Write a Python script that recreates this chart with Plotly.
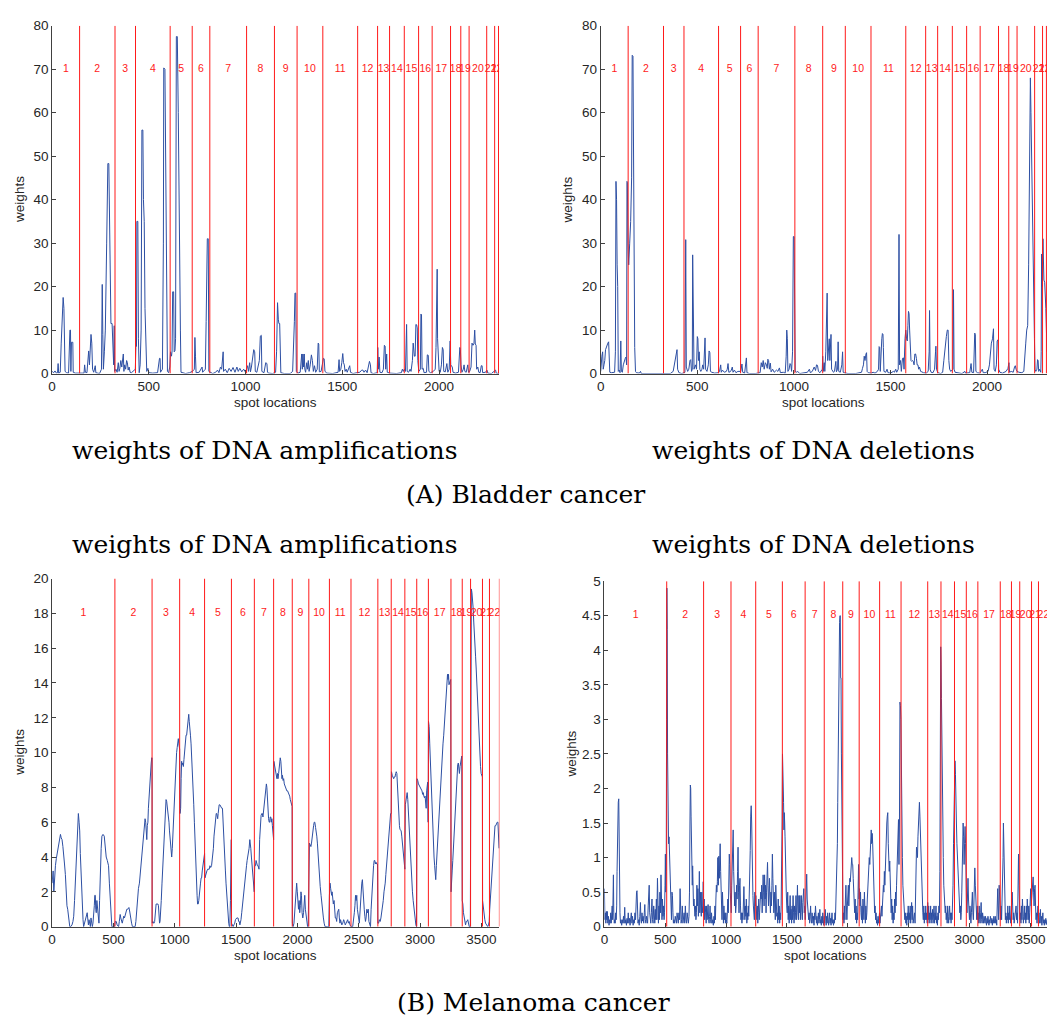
import plotly.graph_objects as go

W, H = 1047, 1026

# ---------------- data ----------------
chrom_labels = [str(i) for i in range(1, 23)]

# chromosome end positions (spot index) for each data set
bladder_bounds = [142, 325, 431, 610, 724, 815, 1005, 1149, 1266, 1399, 1579,
                  1682, 1744, 1820, 1894, 1964, 2059, 2112, 2155, 2246, 2287, 2307]
melanoma_bounds = [512, 815, 1040, 1243, 1462, 1649, 1806, 1958, 2093, 2261, 2437,
                   2656, 2765, 2876, 2973, 3068, 3252, 3344, 3412, 3509, 3566, 3647]

# (spot location, weight) pairs
bladder_amp = [(0,0.5),(8,0.2),(15,0.6),(22,0.1),(28,0.2),(31,2.3),(34,0.1),(42,0.3),(47,7),(52,14),(57,17.5),(61,15),(64,8),(67,0.5),(75,0.2),(85,0.1),(92,10),(95,10),(97,0.5),(100,7.2),(107,7.2),(109,0.3),(120,0.1),(150,0),(165,0.1),(168,2),(172,0.3),(180,0.2),(189,5.2),(193,2),(197,7),(201,9),(205,7),(209,1),(215,0.3),(223,1.8),(226,0.2),(245,0),(255,1),(259,20.5),(262,9),(265,1),(270,5),(275,10),(282,30),(288,48.3),(293,48.3),(297,30),(300,18),(304,11.5),(310,11.5),(314,8),(318,2),(321,11),(323,0.5),(330,1),(336,0.3),(342,2.5),(346,0.5),(350,1.2),(355,3),(360,1.5),(365,4.5),(368,4.5),(371,0.5),(375,2),(380,1),(385,3),(389,2.5),(393,0.8),(398,1.5),(403,0.3),(410,0.2),(420,0.5),(430,1),(433,6),(436,6.2),(438,35),(443,35),(446,8),(450,0.2),(455,2),(460,10),(464,56),(469,56),(472,40),(476,35),(480,15),(484,5),(486,5),(489,0.5),(495,1.2),(500,0.2),(520,0.1),(545,0.2),(555,3.5),(558,3.5),(560,0.3),(570,1),(575,30),(577,70.3),(583,70),(587,40),(592,10),(596,0.5),(602,0.2),(608,1.5),(612,5),(617,4),(620,5.2),(623,18.8),(628,18.8),(631,5),(635,5.3),(638,8),(642,77.5),(647,77.5),(652,60),(657,30),(660,12),(663,10),(666,0.3),(690,0),(710,0.2),(725,0.5),(735,1),(738,8.3),(741,4),(744,0.2),(760,0.3),(771,1.5),(775,1.5),(778,0.3),(785,0.8),(792,1),(796,12),(800,20),(802,31),(807,31),(810,0.5),(830,0),(845,0.3),(855,0.8),(862,0.2),(870,1.5),(876,1),(884,5),(886,0.5),(895,1),(905,0.2),(915,1.2),(925,0.5),(935,1.4),(945,0.3),(955,1.5),(962,0.5),(970,1.2),(980,0.4),(990,1),(1000,0.3),(1010,1.8),(1015,0.5),(1021,2.5),(1025,0.4),(1030,1.5),(1036,4),(1042,5.5),(1047,5),(1050,0.5),(1058,0.3),(1066,2),(1071,3),(1076,8.6),(1081,8.8),(1084,0.5),(1095,0.2),(1104,2.5),(1110,2.3),(1113,0.3),(1120,0.1),(1140,0),(1155,0.3),(1160,5),(1165,16.3),(1169,12.5),(1172,11.5),(1176,11.5),(1179,3),(1182,0.2),(1200,0),(1230,0),(1243,0.5),(1248,5),(1252,12),(1255,18.5),(1259,18.5),(1262,0.5),(1270,0.1),(1282,0.3),(1286,3),(1290,4.5),(1293,1),(1296,4.5),(1300,1.5),(1303,4.5),(1306,1),(1310,0.3),(1316,2.5),(1320,1),(1324,3),(1328,0.5),(1334,2),(1340,4.3),(1345,3),(1350,0.5),(1356,1.8),(1362,0.3),(1370,1),(1375,7),(1378,6.8),(1381,0.4),(1390,0.5),(1396,2),(1402,3.5),(1406,3.4),(1410,0.5),(1420,0.1),(1450,0),(1478,0.3),(1483,3.2),(1486,0.5),(1492,1),(1497,2.5),(1502,4.6),(1506,2.5),(1510,2),(1514,0.5),(1520,1),(1525,0.3),(1532,1),(1538,1.8),(1542,0.3),(1555,0),(1575,0.2),(1590,0.3),(1600,0.8),(1606,0.8),(1612,0.3),(1620,0.8),(1628,0.2),(1636,2.5),(1640,2.8),(1645,2),(1648,0.2),(1660,0),(1680,0.2),(1683,6),(1686,1),(1690,3.8),(1694,0.3),(1705,0.2),(1712,1),(1717,6.5),(1721,6.3),(1724,1),(1729,4.5),(1732,0.3),(1745,0.1),(1780,0),(1805,0.2),(1810,1),(1815,0.5),(1820,1),(1826,0.5),(1832,11.3),(1835,0.5),(1842,0.3),(1850,1),(1855,0.5),(1862,3),(1866,7),(1869,4),(1872,4),(1876,4),(1880,11.3),(1884,11.2),(1887,10.5),(1890,3),(1895,0.5),(1903,1),(1906,13.7),(1909,13.5),(1912,1),(1918,1.2),(1922,0.2),(1935,0.3),(1939,4.3),(1944,4.2),(1947,0.5),(1955,0.2),(1970,0.5),(1980,1),(1984,6),(1987,24),(1990,24),(1992,8),(1996,3),(2000,0.5),(2006,0.3),(2012,2),(2017,6),(2021,5.5),(2024,0.5),(2032,0.4),(2040,2.3),(2045,0.3),(2052,1),(2057,7.5),(2060,2),(2064,1.5),(2068,1.5),(2072,0.3),(2085,0.1),(2100,0.3),(2104,3.5),(2107,6),(2110,5.5),(2113,2),(2118,0.3),(2125,1),(2129,2),(2133,0.5),(2140,0.3),(2148,2),(2152,0.3),(2158,0.5),(2165,1.5),(2170,7),(2175,6.5),(2180,6.8),(2184,10),(2187,6.8),(2191,6.5),(2194,1),(2200,1.5),(2205,0.3),(2212,0.2),(2218,1.8),(2222,1.8),(2225,0.2),(2240,0.3),(2247,0.8),(2252,0.1),(2270,0),(2292,0.8),(2295,0.1),(2310,0)]

bladder_del = [(0,0.5),(3,3),(6,4),(10,5),(13,1),(17,2),(21,3),(25,5.5),(29,6.2),(33,6.5),(37,7),(41,7.3),(44,3.5),(47,0.3),(55,0.2),(68,0.2),(72,0.3),(76,5),(79,44.2),(82,40),(85,25),(88,20),(91,0.5),(96,0.8),(100,0.2),(104,7.5),(107,0.5),(112,0.3),(117,2),(122,3),(127,3.5),(131,3.8),(134,2),(136,44.2),(138,44),(141,30),(145,25),(150,30),(155,35),(160,45),(163,73.2),(167,73),(170,40),(173,20),(176,6),(180,0.5),(185,0.2),(200,0.1),(206,0.5),(210,0),(300,0),(360,0),(375,0.5),(380,2),(385,3.5),(390,5),(395,5.5),(398,1),(405,0.2),(420,0),(436,0.3),(440,30.8),(443,1.5),(450,0.5),(456,1),(462,3),(466,3.2),(470,0.5),(474,1),(476,27.3),(479,5),(483,1),(490,2),(496,1),(500,8.5),(503,8),(506,3),(510,5),(513,1),(518,0.5),(524,1),(528,2),(533,1),(540,8.2),(543,1),(550,0.5),(557,2),(561,5.2),(565,4.8),(568,0.5),(575,0.3),(590,0.1),(610,0.2),(615,0.5),(621,2),(624,0.3),(630,0.8),(640,0.3),(650,0.5),(655,1),(659,2.3),(663,0.3),(670,0.4),(676,0.8),(681,1.5),(685,0.3),(692,0.8),(700,0.2),(710,0.5),(725,0.5),(731,2.2),(735,0.3),(745,0.1),(750,2),(754,3.6),(757,0.2),(770,0),(800,0),(825,0.2),(831,2.5),(836,1.5),(841,3),(846,1),(852,2.5),(858,2),(862,1.2),(865,3.3),(869,3),(873,1),(878,2.4),(882,0.4),(890,1),(898,0.3),(910,0.8),(917,0.5),(925,1.3),(930,0.2),(945,0.3),(955,0.1),(960,4),(963,10),(966,8),(969,0.5),(975,1),(980,2.3),(984,2),(988,0.5),(993,5),(997,31.5),(1001,31.5),(1004,10),(1007,0.5),(1015,0.3),(1020,0.5),(1030,0),(1060,0.2),(1070,0.3),(1080,1),(1085,0.2),(1095,0.5),(1105,1.5),(1112,0.7),(1117,2),(1122,1.9),(1127,0.5),(1135,0.2),(1147,1),(1149,4),(1152,0.5),(1157,2.5),(1160,0.5),(1165,5),(1169,18.5),(1172,18.5),(1175,3),(1179,5),(1183,8),(1186,3),(1189,6),(1192,9),(1195,1),(1200,0.5),(1205,0.3),(1210,0.5),(1217,2.8),(1220,0.4),(1226,1),(1229,7.3),(1232,0.5),(1240,0.3),(1248,2),(1252,5),(1255,0.3),(1262,0.2),(1280,0),(1320,0),(1340,0.2),(1350,0.3),(1355,1.2),(1360,2),(1364,4),(1368,3),(1373,4.5),(1376,4.8),(1379,0.5),(1385,0.2),(1400,0.1),(1410,0.3),(1420,0.1),(1432,0.5),(1438,1),(1441,6.2),(1444,6),(1447,0.5),(1450,5),(1455,8),(1458,9.2),(1461,9),(1463,6),(1466,0.5),(1475,0.3),(1482,1),(1487,0.2),(1500,0.1),(1515,0.5),(1520,0.3),(1527,1),(1532,0.3),(1540,1),(1544,32),(1547,2),(1552,3),(1556,0.5),(1562,3.5),(1567,3.6),(1570,1),(1575,8),(1579,10),(1583,8),(1587,7.5),(1590,11),(1593,14.3),(1596,13.8),(1599,10),(1602,4),(1606,3),(1610,2.8),(1614,3),(1618,2.8),(1622,2),(1626,4.5),(1630,4.5),(1634,3.5),(1638,2),(1642,2),(1646,1),(1650,1.5),(1656,0.5),(1662,0.4),(1670,0.2),(1685,0.1),(1695,0.5),(1700,5),(1702,14.5),(1705,1),(1710,0.3),(1720,0.2),(1728,1),(1733,5),(1735,6.3),(1738,1),(1745,0.2),(1760,0),(1770,0.3),(1776,3),(1781,6),(1785,7.8),(1789,8.5),(1794,10),(1798,10),(1802,3),(1806,1),(1812,0.5),(1818,0.8),(1823,1),(1826,19.3),(1829,1),(1834,0.3),(1850,0.1),(1870,0),(1885,0.5),(1888,0.1),(1910,0.2),(1917,2.3),(1921,0.3),(1930,0.2),(1936,9.3),(1939,9),(1942,0.5),(1950,0.2),(1960,0.1),(1970,0.5),(1975,1),(1980,0.2),(1990,0.2),(2005,0.5),(2012,2),(2017,5),(2022,7),(2028,8),(2033,10.3),(2036,1),(2042,0.5),(2048,2),(2052,7.5),(2057,7.8),(2060,1),(2066,0.3),(2080,0.1),(2098,0.5),(2103,1),(2108,1.2),(2113,2.5),(2116,0.3),(2125,0.5),(2135,0.3),(2142,1.5),(2146,1.8),(2150,1),(2155,0.5),(2165,0.3),(2180,0.2),(2190,0.5),(2195,3),(2200,7),(2205,10),(2210,11),(2215,25),(2218,40),(2221,55),(2224,68),(2227,60),(2230,50),(2234,35),(2238,20),(2242,12),(2245,8),(2248,1),(2252,0.5),(2258,1),(2261,3.2),(2264,3),(2267,0.5),(2272,1),(2278,0.3),(2280,5),(2282,27.5),(2285,20),(2289,31),(2292,25),(2294,21.5),(2298,21),(2301,19),(2304,15),(2307,10),(2310,5)]

melanoma_amp = [(0,2.5),(8,3.2),(14,2.0),(20,3.0),(27,3.5),(34,3.9),(41,4.2),(48,4.5),(54,4.8),(61,5.1),(68,5.3),(74,5.1),(81,5.0),(88,4.6),(95,4.2),(101,3.6),(108,3.0),(113,1.8),(116,1.3),(121,1.2),(127,1.0),(132,0.6),(138,0.2),(144,0.0),(152,0.0),(162,0.1),(170,0.3),(176,0.6),(183,1.5),(190,2.5),(196,3.5),(203,4.5),(208,5.8),(214,6.5),(220,6.0),(225,5.5),(230,4.2),(236,3.0),(241,2.0),(246,1.0),(252,0.4),(257,0.0),(264,0.2),(271,0.5),(280,0.7),(286,0.8),(290,0.5),(296,0.1),(301,0.4),(306,0.2),(312,0.0),(317,0.5),(322,0.2),(328,0.0),(333,0.2),(338,0.5),(344,1.2),(348,1.8),(352,1.8),(356,1.0),(360,0.8),(365,1.5),(370,1.0),(375,0.4),(379,0.2),(382,0.2),(387,1.5),(393,3.5),(400,4.5),(406,5.2),(415,5.3),(425,5.2),(433,4.5),(441,4.0),(450,3.8),(460,3.5),(467,2.5),(474,1.5),(480,0.8),(487,0.0),(495,0.0),(509,0.0),(515,0.3),(523,0.3),(530,0.1),(536,0.0),(542,0.0),(548,0.3),(555,0.7),(560,0.5),(566,0.3),(572,0.2),(578,0.4),(584,0.6),(590,0.5),(596,0.7),(602,0.8),(609,1.0),(616,1.0),(622,1.1),(626,1.1),(632,0.9),(637,0.6),(642,0.5),(648,0.2),(655,0.0),(665,0.0),(677,0.0),(683,0.3),(690,1.0),(697,1.6),(704,2.2),(712,2.5),(718,3.0),(724,3.5),(731,4.0),(738,4.5),(745,5.0),(751,5.8),(758,6.2),(763,6.0),(768,5.0),(772,5.0),(776,5.8),(781,6.0),(785,6.8),(790,7.5),(795,8.2),(799,8.5),(803,9.0),(808,9.4),(812,9.7),(815,9.7),(816,0.2),(822,0.3),(828,0.2),(831,0.2),(836,0.3),(842,1.0),(848,1.3),(856,1.3),(863,1.3),(867,1.2),(872,0.5),(876,0.2),(880,0.3),(886,0.8),(890,1.5),(896,2.5),(901,3.2),(907,4.0),(912,5.0),(916,5.8),(921,6.5),(925,7.0),(929,7.3),(934,7.2),(938,7.0),(943,6.8),(948,6.5),(953,6.0),(957,5.5),(961,5.2),(966,4.5),(970,4.3),(975,4.0),(980,4.5),(984,5.2),(988,5.8),(993,6.5),(997,7.2),(1002,8.0),(1007,8.8),(1011,9.5),(1015,10.0),(1020,10.3),(1025,10.8),(1029,10.8),(1033,10.5),(1037,10.3),(1040,10.2),(1043,6.5),(1048,6.8),(1052,8.5),(1056,9.5),(1060,9.3),(1065,9.4),(1070,9.2),(1075,9.6),(1080,10.0),(1083,10.0),(1087,10.8),(1092,11.0),(1097,11.0),(1102,11.5),(1106,12.0),(1110,12.2),(1114,12.2),(1118,11.8),(1124,11.5),(1128,11.0),(1133,10.5),(1137,10.0),(1141,9.3),(1146,8.5),(1151,7.8),(1155,7.0),(1160,6.0),(1164,5.0),(1168,4.2),(1173,3.5),(1178,2.5),(1182,1.8),(1186,1.3),(1191,1.3),(1196,1.5),(1200,2.0),(1205,2.0),(1210,2.5),(1215,2.8),(1219,2.8),(1224,3.2),(1228,3.5),(1232,3.5),(1236,4.0),(1240,4.2),(1243,4.2),(1246,2.8),(1251,3.0),(1256,3.2),(1262,3.2),(1268,3.3),(1275,3.3),(1281,3.3),(1287,3.5),(1293,3.4),(1300,3.5),(1305,3.8),(1310,4.2),(1315,4.5),(1320,5.2),(1326,5.8),(1330,6.0),(1334,6.4),(1338,6.5),(1342,6.5),(1346,6.2),(1350,6.2),(1354,6.5),(1358,6.8),(1362,7.0),(1368,7.0),(1373,6.9),(1378,6.8),(1383,6.8),(1389,6.8),(1393,6.0),(1398,5.5),(1403,4.8),(1408,4.0),(1413,3.2),(1418,2.5),(1422,2.0),(1427,1.5),(1431,1.0),(1435,0.5),(1440,0.2),(1445,0.0),(1449,0.0),(1454,1.5),(1458,3.0),(1461,5.0),(1463,0.2),(1470,0.1),(1476,0.0),(1482,0.1),(1489,0.2),(1495,0.4),(1501,0.5),(1506,0.5),(1511,0.5),(1516,0.5),(1521,0.3),(1526,0.3),(1531,0.1),(1535,0.2),(1540,0.4),(1546,0.8),(1551,1.2),(1557,1.5),(1562,2.0),(1567,2.5),(1571,2.8),(1576,3.0),(1580,3.3),(1585,3.5),(1590,3.8),(1595,4.0),(1600,4.2),(1606,4.5),(1612,5.0),(1616,4.8),(1620,4.5),(1625,4.0),(1630,3.5),(1635,3.0),(1640,2.8),(1644,2.5),(1648,2.0),(1652,3.5),(1658,3.5),(1663,3.8),(1668,3.6),(1674,3.5),(1680,3.5),(1687,3.3),(1692,5.0),(1698,6.2),(1704,6.4),(1710,6.5),(1714,6.5),(1719,6.3),(1724,6.6),(1728,6.8),(1733,7.0),(1737,7.5),(1742,7.8),(1747,8.2),(1751,8.0),(1756,7.0),(1760,6.5),(1765,6.2),(1770,6.0),(1774,6.0),(1778,6.3),(1783,6.3),(1787,6.0),(1792,6.2),(1796,5.8),(1801,5.5),(1806,5.0),(1808,9.5),(1813,9.3),(1818,9.0),(1823,8.8),(1828,8.5),(1833,8.5),(1838,8.8),(1842,8.5),(1847,8.8),(1852,9.2),(1856,9.5),(1860,9.7),(1865,9.5),(1870,9.0),(1874,8.5),(1878,8.7),(1883,8.4),(1888,8.5),(1893,8.2),(1898,8.1),(1904,8.0),(1909,8.0),(1914,7.8),(1920,7.8),(1926,7.7),(1931,7.6),(1937,7.5),(1942,7.3),(1947,7.2),(1952,7.0),(1957,6.9),(1959,0.2),(1965,0.0),(1972,0.2),(1978,1.0),(1983,1.8),(1989,2.5),(1994,2.5),(1999,2.0),(2004,1.5),(2009,1.0),(2014,1.5),(2019,0.8),(2024,1.2),(2029,2.0),(2033,1.8),(2038,0.8),(2044,0.5),(2050,0.8),(2055,1.5),(2060,1.8),(2065,1.0),(2071,0.5),(2077,0.2),(2083,0.0),(2088,0.0),(2093,2.0),(2098,4.8),(2104,4.7),(2110,4.6),(2115,4.8),(2120,5.2),(2126,5.5),(2132,5.8),(2137,6.0),(2142,6.0),(2148,5.7),(2153,5.5),(2158,5.2),(2163,4.8),(2169,4.0),(2174,3.5),(2180,3.0),(2186,2.3),(2193,1.8),(2199,1.2),(2205,0.8),(2212,0.5),(2218,0.2),(2225,0.0),(2245,0.0),(2256,0.0),(2261,1.8),(2266,2.5),(2271,2.2),(2275,2.0),(2279,1.8),(2283,2.0),(2288,1.5),(2293,1.3),(2299,1.5),(2304,0.8),(2309,0.5),(2315,0.5),(2320,0.3),(2326,0.8),(2331,1.0),(2337,1.0),(2342,0.5),(2347,0.2),(2352,0.4),(2356,0.2),(2362,0.1),(2370,0.2),(2377,0.4),(2383,0.3),(2390,0.1),(2397,0.2),(2404,0.3),(2410,0.4),(2416,0.2),(2422,0.3),(2429,0.1),(2437,0.0),(2451,0.0),(2458,0.3),(2464,0.8),(2469,1.2),(2474,1.8),(2479,1.5),(2484,1.8),(2489,1.0),(2494,0.5),(2499,0.5),(2505,0.2),(2510,1.0),(2515,1.5),(2520,2.0),(2525,2.5),(2530,2.7),(2535,1.8),(2540,1.2),(2545,1.0),(2550,0.6),(2555,0.3),(2560,0.5),(2566,1.0),(2572,0.8),(2578,1.0),(2583,0.3),(2590,0.0),(2596,0.0),(2601,1.0),(2606,1.8),(2611,2.5),(2616,3.0),(2621,3.5),(2626,3.8),(2631,3.8),(2636,3.6),(2641,3.7),(2647,3.6),(2653,3.6),(2656,0.2),(2662,0.2),(2668,0.4),(2675,0.3),(2681,0.5),(2687,0.8),(2694,1.0),(2700,1.5),(2706,2.0),(2711,2.2),(2716,2.5),(2721,3.0),(2726,3.5),(2731,4.0),(2736,4.2),(2741,4.6),(2746,5.0),(2751,5.5),(2756,6.0),(2760,6.5),(2765,6.5),(2767,8.9),(2773,8.7),(2779,8.6),(2785,8.5),(2790,8.6),(2796,8.6),(2801,8.8),(2806,8.9),(2811,8.8),(2815,8.0),(2819,7.5),(2824,7.0),(2828,6.3),(2832,5.8),(2836,5.6),(2841,5.5),(2846,5.5),(2851,5.2),(2856,4.8),(2862,4.2),(2868,3.8),(2873,3.5),(2876,3.3),(2880,7.0),(2884,7.3),(2890,7.5),(2895,7.7),(2900,7.3),(2905,6.5),(2911,5.5),(2916,4.8),(2921,4.0),(2927,3.5),(2932,2.8),(2938,2.0),(2944,1.5),(2950,1.0),(2955,0.6),(2960,0.3),(2966,0.1),(2971,0.0),(2975,8.5),(2981,8.4),(2987,8.2),(2993,8.1),(2998,8.0),(3004,7.9),(3010,7.8),(3016,7.8),(3021,7.6),(3026,7.7),(3031,7.5),(3036,7.4),(3041,7.5),(3046,7.0),(3050,6.8),(3054,7.8),(3058,8.0),(3062,8.3),(3066,6.0),(3069,11.8),(3074,11.5),(3079,10.5),(3084,9.5),(3089,8.5),(3094,7.0),(3099,6.0),(3104,5.0),(3109,4.5),(3114,4.0),(3119,3.5),(3124,3.0),(3128,2.7),(3133,3.5),(3138,4.2),(3143,4.8),(3148,5.5),(3153,6.2),(3158,6.8),(3164,7.5),(3170,8.5),(3176,9.5),(3181,10.0),(3187,10.5),(3193,11.0),(3199,11.8),(3204,12.2),(3209,12.5),(3214,13.0),(3219,13.8),(3224,14.5),(3228,14.2),(3232,14.5),(3236,13.9),(3241,14.0),(3246,14.2),(3250,14.2),(3253,2.0),(3257,3.0),(3262,3.2),(3267,3.8),(3272,4.5),(3277,5.0),(3282,6.0),(3287,6.8),(3292,7.5),(3297,8.3),(3302,9.0),(3307,9.3),(3312,9.4),(3317,9.0),(3321,8.8),(3326,9.2),(3331,9.5),(3336,9.6),(3340,9.8),(3344,1.5),(3349,1.3),(3354,0.8),(3359,0.5),(3365,0.2),(3371,0.1),(3377,0.3),(3383,0.3),(3389,0.4),(3395,0.2),(3401,0.0),(3410,0.0),(3413,19.3),(3418,19.4),(3423,19.2),(3428,18.8),(3433,18.3),(3438,17.5),(3443,17.0),(3448,16.5),(3453,15.5),(3458,14.8),(3463,14.0),(3468,13.0),(3473,12.0),(3478,11.0),(3483,10.2),(3488,9.6),(3493,9.2),(3498,8.8),(3503,8.7),(3508,8.6),(3510,1.5),(3516,1.0),(3522,0.8),(3528,0.4),(3534,0.2),(3540,0.1),(3546,0.0),(3552,0.0),(3558,0.1),(3564,0.3),(3568,1.0),(3573,1.5),(3578,2.2),(3583,2.8),(3589,3.5),(3594,4.0),(3600,4.8),(3605,5.2),(3611,5.8),(3617,5.8),(3623,6.0),(3629,6.0),(3635,6.0),(3640,5.0),(3644,4.5)]

melanoma_del = [(0,0.55),(4,0.1),(8,0.2),(12,0.05),(16,0.22),(20,0.1),(24,0.22),(28,0.05),(33,0.15),(38,0.02),(43,0.1),(47,0.05),(52,0.2),(56,0.05),(60,0.15),(64,0.3),(68,0.1),(71,0.6),(74,0.75),(77,0.2),(81,0.05),(85,0.1),(89,0.05),(93,0.2),(97,0.1),(101,0.3),(104,0.8),(107,1.5),(110,1.65),(114,1.8),(118,1.85),(121,1.0),(124,0.3),(128,0.2),(132,0.05),(137,0.1),(142,0.02),(147,0.1),(152,0.05),(157,0.15),(162,0.05),(167,0.28),(171,0.05),(176,0.1),(181,0.02),(186,0.12),(191,0.05),(196,0.2),(201,0.05),(206,0.12),(211,0.02),(216,0.1),(221,0.2),(226,0.05),(231,0.15),(236,0.02),(241,0.1),(246,0.05),(251,0.2),(256,0.1),(260,0.45),(264,0.5),(268,0.52),(272,0.2),(276,0.05),(281,0.1),(286,0.02),(291,0.15),(296,0.35),(300,0.1),(304,0.05),(309,0.2),(313,0.08),(318,0.15),(323,0.05),(328,0.2),(332,0.32),(336,0.1),(341,0.05),(346,0.15),(351,0.1),(355,0.05),(360,0.3),(364,0.58),(368,0.6),(372,0.2),(376,0.1),(381,0.05),(386,0.2),(391,0.4),(395,0.1),(400,0.05),(405,0.3),(409,0.1),(414,0.05),(418,0.25),(422,0.1),(427,0.4),(431,0.1),(436,0.7),(440,0.2),(444,0.05),(448,0.3),(452,0.1),(456,0.5),(460,0.2),(465,0.75),(469,0.3),(473,0.1),(477,0.4),(481,0.15),(486,0.3),(490,0.1),(494,0.2),(498,0.6),(501,1.05),(504,0.5),(508,0.8),(511,3.0),(513,4.9),(516,4.3),(519,2.5),(523,1.6),(527,1.2),(531,1.3),(535,1.0),(539,0.95),(543,0.6),(547,0.3),(551,0.1),(555,0.5),(559,0.45),(563,0.2),(567,0.05),(572,0.1),(577,0.05),(582,0.15),(587,0.1),(592,0.05),(597,0.2),(602,0.1),(607,0.05),(612,0.2),(617,0.1),(622,0.55),(626,0.2),(630,0.05),(635,0.1),(640,0.3),(645,0.05),(650,0.1),(655,0.2),(660,0.05),(665,0.3),(670,0.1),(675,0.05),(680,0.2),(685,0.1),(690,0.05),(695,0.15),(699,0.5),(703,1.5),(706,2.05),(709,2.0),(712,1.6),(716,1.3),(719,0.8),(722,0.6),(725,0.88),(728,0.5),(732,0.3),(736,0.4),(740,0.2),(744,0.15),(748,0.3),(752,0.1),(756,0.2),(760,0.6),(764,0.3),(768,0.55),(772,0.15),(776,0.3),(780,0.8),(784,0.2),(788,0.5),(792,0.3),(796,0.15),(800,0.5),(804,0.2),(808,0.3),(812,0.65),(816,0.2),(820,0.4),(824,0.1),(828,0.3),(832,0.2),(836,0.05),(840,0.3),(844,0.1),(848,0.2),(852,0.32),(856,0.1),(860,0.05),(864,0.15),(868,0.3),(872,0.1),(876,0.05),(880,0.2),(885,0.05),(890,0.1),(895,0.02),(900,0.15),(904,0.05),(908,0.3),(912,0.1),(916,0.4),(920,0.6),(924,0.5),(928,0.65),(932,1.0),(936,0.6),(940,1.02),(944,0.7),(948,1.2),(951,1.2),(955,0.8),(958,0.4),(962,0.3),(966,0.1),(970,0.5),(974,0.2),(978,0.05),(982,0.3),(986,0.1),(990,0.2),(994,0.05),(998,0.2),(1002,0.1),(1006,0.05),(1010,0.2),(1014,0.4),(1018,0.2),(1022,0.6),(1026,1.05),(1030,0.9),(1034,0.5),(1038,0.3),(1042,0.2),(1046,0.6),(1050,0.9),(1054,1.2),(1058,1.4),(1062,0.8),(1066,0.6),(1070,0.3),(1074,0.5),(1078,0.2),(1082,0.3),(1086,0.6),(1090,0.4),(1094,0.8),(1098,1.15),(1102,0.5),(1106,0.2),(1110,0.6),(1114,0.7),(1118,0.3),(1122,0.1),(1126,0.2),(1130,0.05),(1134,0.2),(1138,0.1),(1142,0.3),(1146,0.58),(1150,0.3),(1154,0.1),(1158,0.3),(1162,0.15),(1166,0.4),(1170,0.05),(1174,0.2),(1178,0.1),(1182,0.3),(1186,0.15),(1190,0.4),(1194,0.8),(1198,1.1),(1202,1.6),(1206,1.75),(1210,1.5),(1213,1.0),(1216,0.7),(1220,0.45),(1224,0.3),(1228,0.2),(1232,0.1),(1236,0.5),(1240,0.3),(1244,0.45),(1248,0.2),(1252,0.1),(1256,0.3),(1260,0.05),(1264,0.2),(1268,0.4),(1272,0.1),(1276,0.3),(1280,0.2),(1284,0.5),(1288,0.4),(1292,0.6),(1296,0.2),(1300,0.4),(1304,0.75),(1308,0.5),(1312,0.3),(1316,0.75),(1320,0.4),(1324,0.6),(1328,0.2),(1332,0.5),(1336,0.8),(1340,0.93),(1344,0.6),(1348,0.3),(1352,0.5),(1356,0.7),(1360,0.4),(1364,0.2),(1368,0.5),(1372,0.3),(1376,0.6),(1380,1.05),(1384,0.7),(1388,0.4),(1392,0.2),(1396,0.5),(1400,0.3),(1404,0.1),(1408,0.6),(1412,0.3),(1416,0.15),(1420,0.2),(1424,0.05),(1428,0.4),(1432,0.1),(1436,0.3),(1440,0.05),(1444,0.2),(1448,0.1),(1452,0.3),(1456,0.7),(1460,1.5),(1463,2.5),(1466,2.3),(1469,2.25),(1472,1.8),(1475,1.4),(1478,1.65),(1481,1.5),(1484,1.3),(1487,0.9),(1490,0.95),(1494,0.5),(1498,0.3),(1502,0.2),(1506,0.5),(1510,0.1),(1514,0.3),(1518,0.05),(1522,0.2),(1526,0.45),(1530,0.1),(1534,0.25),(1538,0.05),(1542,0.3),(1546,0.1),(1550,0.45),(1554,0.2),(1558,0.05),(1562,0.3),(1566,0.1),(1570,0.2),(1574,0.45),(1578,0.1),(1582,0.3),(1586,0.6),(1590,0.2),(1594,0.1),(1598,0.45),(1602,0.2),(1606,0.45),(1610,0.1),(1614,0.3),(1618,0.45),(1622,0.2),(1626,0.1),(1630,0.35),(1634,0.5),(1638,0.55),(1642,0.2),(1646,0.3),(1650,0.1),(1654,0.45),(1658,0.65),(1662,0.76),(1666,0.4),(1670,0.2),(1674,0.3),(1678,0.1),(1682,0.2),(1686,0.05),(1690,0.15),(1694,0.3),(1698,0.1),(1702,0.05),(1706,0.2),(1710,0.1),(1714,0.05),(1718,0.15),(1722,0.02),(1726,0.2),(1730,0.1),(1734,0.3),(1738,0.1),(1742,0.05),(1746,0.15),(1750,0.02),(1754,0.1),(1758,0.2),(1762,0.05),(1766,0.1),(1770,0.25),(1774,0.05),(1778,0.1),(1782,0.02),(1786,0.15),(1790,0.05),(1794,0.2),(1798,0.1),(1802,0.02),(1806,0.15),(1810,0.05),(1814,0.25),(1818,0.1),(1822,0.02),(1826,0.15),(1830,0.05),(1834,0.2),(1838,0.1),(1842,0.02),(1846,0.1),(1850,0.2),(1854,0.05),(1858,0.12),(1862,0.02),(1866,0.1),(1870,0.2),(1874,0.05),(1878,0.1),(1882,0.02),(1886,0.1),(1890,0.05),(1894,0.2),(1898,0.1),(1902,0.3),(1906,0.5),(1910,0.8),(1914,1.2),(1917,1.8),(1920,2.5),(1923,3.0),(1926,3.5),(1929,4.3),(1932,4.4),(1935,4.5),(1938,4.5),(1941,3.6),(1944,3.6),(1947,2.5),(1950,1.5),(1953,0.8),(1956,0.3),(1960,0.1),(1964,0.2),(1968,0.05),(1972,0.3),(1976,0.1),(1980,0.4),(1984,0.6),(1988,0.3),(1992,0.1),(1996,0.3),(2000,0.55),(2004,0.6),(2008,0.3),(2012,0.6),(2016,0.7),(2020,0.65),(2024,0.8),(2028,0.95),(2032,1.0),(2036,0.9),(2040,0.9),(2044,0.7),(2048,0.5),(2052,0.3),(2056,0.2),(2060,0.4),(2064,0.1),(2068,0.3),(2072,0.05),(2076,0.2),(2080,0.1),(2084,0.5),(2088,0.9),(2092,0.4),(2096,0.55),(2100,0.3),(2104,0.5),(2108,0.2),(2112,0.1),(2116,0.3),(2120,0.05),(2124,0.4),(2128,0.2),(2132,0.1),(2136,0.5),(2140,0.3),(2144,0.05),(2148,0.3),(2152,0.1),(2156,0.2),(2160,0.4),(2164,0.6),(2168,0.5),(2172,0.8),(2176,1.0),(2180,0.9),(2184,1.1),(2188,1.3),(2192,1.4),(2196,1.2),(2200,1.35),(2204,1.2),(2208,0.9),(2212,0.6),(2216,0.4),(2220,0.2),(2224,0.3),(2228,0.1),(2232,0.2),(2236,0.05),(2240,0.1),(2244,0.02),(2248,0.15),(2252,0.05),(2256,0.1),(2260,0.2),(2264,0.05),(2268,0.15),(2272,0.1),(2276,0.3),(2280,0.15),(2284,0.4),(2288,0.3),(2292,0.6),(2296,0.5),(2300,0.8),(2304,0.6),(2308,0.9),(2312,1.1),(2316,1.3),(2320,1.5),(2324,1.6),(2328,1.65),(2332,1.2),(2336,0.9),(2340,0.8),(2344,0.95),(2348,0.5),(2352,0.3),(2356,0.2),(2360,0.4),(2364,0.1),(2368,0.3),(2372,0.05),(2376,0.2),(2380,0.1),(2384,0.4),(2388,0.2),(2392,0.5),(2396,0.3),(2400,0.6),(2404,0.8),(2408,1.0),(2412,1.1),(2416,1.55),(2420,0.9),(2424,1.5),(2428,3.25),(2432,3.2),(2436,3.0),(2440,2.0),(2444,1.5),(2448,1.0),(2452,0.6),(2456,0.4),(2460,0.2),(2464,0.3),(2468,0.1),(2472,0.2),(2476,0.05),(2480,0.15),(2484,0.02),(2488,0.2),(2492,0.1),(2496,0.3),(2500,0.05),(2504,0.2),(2508,0.1),(2512,0.3),(2516,0.05),(2520,0.2),(2524,0.35),(2528,0.1),(2532,0.3),(2536,0.05),(2540,0.15),(2544,0.1),(2548,0.2),(2552,0.05),(2556,0.5),(2560,1.0),(2564,1.15),(2568,1.1),(2572,1.0),(2576,1.3),(2580,1.5),(2584,1.8),(2588,1.8),(2592,1.6),(2596,1.3),(2600,1.0),(2604,0.8),(2608,0.5),(2612,0.3),(2616,0.2),(2620,0.1),(2624,0.3),(2628,0.05),(2632,0.2),(2636,0.1),(2640,0.3),(2644,0.1),(2648,0.2),(2652,0.05),(2656,0.35),(2660,0.1),(2664,0.3),(2668,0.05),(2672,0.2),(2676,0.1),(2680,0.3),(2684,0.05),(2688,0.2),(2692,0.1),(2696,0.25),(2700,0.05),(2704,0.15),(2708,0.3),(2712,0.05),(2716,0.2),(2720,0.1),(2724,0.3),(2728,0.05),(2732,0.15),(2736,0.02),(2740,0.2),(2744,0.1),(2748,0.3),(2752,0.2),(2756,0.8),(2760,3.0),(2763,4.05),(2766,3.8),(2769,3.3),(2772,2.6),(2776,2.0),(2780,1.5),(2784,1.0),(2788,0.6),(2792,0.4),(2796,0.3),(2800,0.2),(2804,0.3),(2808,0.1),(2812,0.2),(2816,0.05),(2820,0.3),(2824,0.15),(2828,0.05),(2832,0.2),(2836,0.3),(2840,0.1),(2844,0.2),(2848,0.05),(2852,0.2),(2856,0.1),(2860,0.3),(2864,0.6),(2868,1.2),(2872,1.8),(2876,2.3),(2880,2.4),(2884,2.2),(2888,2.0),(2892,1.5),(2896,1.2),(2900,1.0),(2904,0.8),(2908,0.5),(2912,0.4),(2916,0.3),(2920,0.2),(2924,0.3),(2928,0.1),(2932,0.2),(2936,0.5),(2940,1.0),(2943,1.45),(2947,1.5),(2951,1.3),(2955,0.9),(2959,1.2),(2963,1.45),(2967,1.2),(2971,0.5),(2975,0.3),(2979,0.2),(2983,0.6),(2987,0.7),(2991,0.4),(2995,0.2),(2999,0.1),(3003,0.3),(3007,0.2),(3011,0.05),(3015,0.2),(3019,0.3),(3023,0.5),(3027,0.2),(3031,0.1),(3035,0.3),(3039,0.6),(3043,0.85),(3047,0.6),(3051,0.3),(3055,0.2),(3059,0.1),(3063,0.3),(3067,0.1),(3071,0.2),(3075,0.05),(3079,0.3),(3083,0.1),(3087,0.05),(3091,0.2),(3095,0.35),(3099,0.1),(3103,0.05),(3107,0.2),(3111,0.1),(3115,0.05),(3119,0.15),(3123,0.1),(3127,0.05),(3131,0.15),(3135,0.1),(3139,0.02),(3143,0.12),(3147,0.05),(3151,0.15),(3155,0.1),(3159,0.02),(3163,0.1),(3167,0.05),(3171,0.15),(3175,0.1),(3179,0.05),(3183,0.12),(3187,0.02),(3191,0.1),(3195,0.05),(3199,0.15),(3203,0.1),(3207,0.05),(3211,0.15),(3215,0.05),(3219,0.1),(3223,0.02),(3227,0.2),(3231,0.55),(3235,0.3),(3239,0.1),(3243,0.6),(3247,0.4),(3251,0.2),(3255,0.1),(3259,0.3),(3263,0.1),(3267,0.4),(3271,0.6),(3275,1.0),(3278,1.5),(3281,1.2),(3284,1.15),(3287,0.6),(3290,0.3),(3294,0.1),(3298,0.2),(3302,0.05),(3306,0.15),(3310,0.1),(3314,0.3),(3318,0.05),(3322,0.2),(3326,0.1),(3330,0.3),(3334,0.15),(3338,0.05),(3342,0.1),(3346,0.3),(3350,0.5),(3354,0.3),(3358,0.1),(3362,0.2),(3366,0.05),(3370,0.15),(3374,0.1),(3378,0.2),(3382,0.3),(3386,0.1),(3390,0.2),(3394,0.05),(3398,0.4),(3402,1.05),(3406,0.6),(3410,0.3),(3414,0.1),(3418,0.2),(3422,0.05),(3426,0.3),(3430,0.1),(3434,0.4),(3438,0.2),(3442,0.05),(3446,0.15),(3450,0.3),(3454,0.1),(3458,0.2),(3462,0.05),(3466,0.3),(3470,0.1),(3474,0.4),(3478,0.2),(3482,0.1),(3486,0.3),(3490,0.05),(3494,0.2),(3498,0.4),(3502,0.55),(3506,0.3),(3510,0.4),(3514,0.6),(3518,0.7),(3522,0.72),(3526,0.5),(3530,0.3),(3534,0.55),(3538,0.6),(3542,0.3),(3546,0.1),(3550,0.2),(3554,0.05),(3558,0.15),(3562,0.3),(3566,0.1),(3570,0.2),(3574,0.05),(3578,0.1),(3582,0.25),(3586,0.05),(3590,0.15),(3594,0.02),(3598,0.1),(3602,0.2),(3606,0.05),(3610,0.1),(3614,0.02),(3618,0.1),(3622,0.05),(3626,0.12),(3630,0.03),(3636,0.1)]

top_xticks = [0, 500, 1000, 1500, 2000]
bottom_xticks = [0, 500, 1000, 1500, 2000, 2500, 3000, 3500]
bladder_yticks = [0, 10, 20, 30, 40, 50, 60, 70, 80]
mel_amp_yticks = [0, 2, 4, 6, 8, 10, 12, 14, 16, 18, 20]
mel_del_yticks = [0, 0.5, 1, 1.5, 2, 2.5, 3, 3.5, 4, 4.5, 5]
mel_del_yticktext = ["0", "0.5", "1", "1.5", "2", "2.5", "3", "3.5", "4", "4.5", "5"]

panel_titles = ["weights of DNA amplifications", "weights of DNA deletions"]
group_captions = ["(A) Bladder cancer", "(B) Melanoma cancer"]

# ---------------- figure ----------------
BLUE = "#2d4fa3"
RED = "#ff1a1a"
AXC = "#404040"
SANS = "Liberation Sans, Arial, sans-serif"
SERIF = "DejaVu Serif, serif"

def px(x):
    return x / W

def py(y):
    return 1 - y / H

panels = [
    dict(pts=bladder_amp, bounds=bladder_bounds, xr=[0, 2310], yr=[0, 80], xt=top_xticks,
         yt=bladder_yticks, ytt=None, laby=70, dx=(48.3, 497), dy=(19, 372)),
    dict(pts=bladder_del, bounds=bladder_bounds, xr=[0, 2310], yr=[0, 80], xt=top_xticks,
         yt=bladder_yticks, ytt=None, laby=70, dx=(599, 1047), dy=(19, 372)),
    dict(pts=melanoma_amp, bounds=melanoma_bounds, xr=[0, 3647], yr=[0, 20], xt=bottom_xticks,
         yt=mel_amp_yticks, ytt=None, laby=18, dx=(48.3, 497.3), dy=(580, 933.3)),
    dict(pts=melanoma_del, bounds=melanoma_bounds, xr=[0, 3636], yr=[0, 5], xt=bottom_xticks,
         yt=mel_del_yticks, ytt=mel_del_yticktext, laby=4.5, dx=(602.7, 1047), dy=(582.7, 933.3)),
]

fig = go.Figure()
layout = dict(
    width=W, height=H, margin=dict(l=0, r=0, t=0, b=0),
    paper_bgcolor="white", plot_bgcolor="white", showlegend=False,
    annotations=[],
)

for i, p in enumerate(panels):
    k = "" if i == 0 else str(i + 1)
    xa, ya = "x" + k, "y" + k
    xs = [a for a, b in p["pts"]]
    ys = [b for a, b in p["pts"]]
    fig.add_trace(go.Scatter(x=xs, y=ys, mode="lines", line=dict(color=BLUE, width=1),
                             xaxis=xa, yaxis=ya, hoverinfo="skip"))
    # chromosome boundaries
    lx, ly = [], []
    for b in p["bounds"]:
        lx += [b, b, None]
        ly += [p["yr"][0], p["yr"][1], None]
    fig.add_trace(go.Scatter(x=lx, y=ly, mode="lines", line=dict(color=RED, width=1),
                             xaxis=xa, yaxis=ya, hoverinfo="skip"))
    starts = [0] + p["bounds"][:-1]
    centers = [(s + e) / 2 for s, e in zip(starts, p["bounds"])]
    fig.add_trace(go.Scatter(x=centers, y=[p["laby"]] * len(centers), mode="text",
                             text=chrom_labels,
                             textfont=dict(color=RED, size=10.5, family=SANS),
                             xaxis=xa, yaxis=ya, hoverinfo="skip"))
    common = dict(showline=True, linecolor=AXC, linewidth=1, ticks="inside", ticklen=4,
                  tickcolor=AXC, tickwidth=1, showgrid=False, zeroline=False,
                  tickfont=dict(family=SANS, size=13.5, color="#262626"))
    layout["xaxis" + k] = dict(common, domain=[px(p["dx"][0]), px(p["dx"][1])], range=p["xr"],
                               tickmode="array", tickvals=p["xt"], anchor=ya)
    yd = dict(common, domain=[py(p["dy"][1]), py(p["dy"][0])], range=p["yr"],
              tickmode="array", tickvals=p["yt"], anchor=xa)
    if p["ytt"]:
        yd["ticktext"] = p["ytt"]
    layout["yaxis" + k] = yd
    # axis titles
    cx = (p["dx"][0] + p["dx"][1]) / 2
    cy = (p["dy"][0] + p["dy"][1]) / 2
    xlab_y = p["dy"][1] + 29.5
    layout["annotations"].append(dict(text="spot locations", x=px(cx), y=py(xlab_y),
                                      xref="paper", yref="paper", showarrow=False,
                                      xanchor="center", yanchor="middle",
                                      font=dict(family=SANS, size=13.5, color="#262626")))
    layout["annotations"].append(dict(text="weights", x=px(p["dx"][0] - 33), y=py(cy),
                                      xref="paper", yref="paper", showarrow=False, textangle=-90,
                                      xanchor="center", yanchor="middle",
                                      font=dict(family=SANS, size=13.5, color="#262626")))

# serif captions
caps = [
    (panel_titles[0], 262.5, 450), (panel_titles[1], 812.5, 450),
    (group_captions[0], 523.5, 495),
    (panel_titles[0], 262.5, 545), (panel_titles[1], 812.5, 545),
    (group_captions[1], 531.5, 1010),
]
for t, x, y in caps:
    layout["annotations"].append(dict(text=t, x=px(x), y=py(y), xref="paper", yref="paper",
                                      showarrow=False, xanchor="center", yanchor="middle",
                                      font=dict(family=SERIF, size=25, color="black")))

fig.update_layout(**layout)
fig.write_html("out.html")
